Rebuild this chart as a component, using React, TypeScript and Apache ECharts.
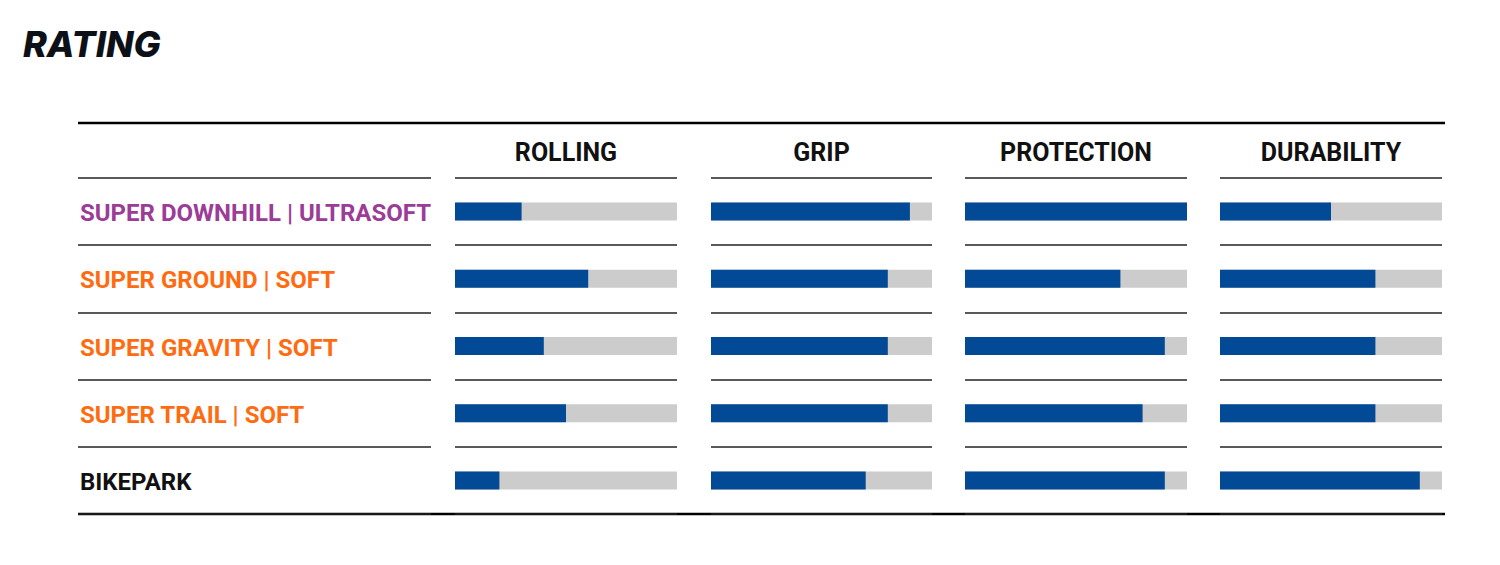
import React, { useEffect, useRef } from "react";
import * as echarts from "echarts";

const categories = [
  "SUPER DOWNHILL | ULTRASOFT",
  "SUPER GROUND | SOFT",
  "SUPER GRAVITY | SOFT",
  "SUPER TRAIL | SOFT",
  "BIKEPARK",
];
const columns = ["ROLLING", "GRIP", "PROTECTION", "DURABILITY"];
const rolling = [3, 6, 4, 5, 2];
const grip = [9, 8, 8, 8, 7];
const protection = [10, 7, 9, 8, 9];
const durability = [5, 7, 7, 7, 9];
const maxRating = 10;

const seriesValues = [rolling, grip, protection, durability];
const labelColors = ["#9b3c97", "#ff6b10", "#ff6b10", "#ff6b10", "#111111"];
const FONT = "Roboto, 'Open Sans', sans-serif";

export default function App() {
  const ref = useRef<HTMLDivElement>(null);
  useEffect(() => {
    if (!ref.current) return;
    const chart = echarts.init(ref.current, null, { renderer: "svg" });
    const top = 178;
    const height = 336;
    const colLefts = [455, 711, 965, 1220];
    const colWidths = [222, 221, 222, 222];

    const grids: any[] = [{ left: 78, width: 353, top, height }];
    colLefts.forEach((l, i) => grids.push({ left: l, width: colWidths[i], top, height }));

    const splitLine = { show: true, lineStyle: { color: "#222", width: 1.5 } };
    const xAxes: any[] = [
      { gridIndex: 0, type: "value", min: 0, max: maxRating, show: false },
    ];
    const yAxes: any[] = [
      {
        gridIndex: 0,
        type: "category",
        inverse: true,
        data: categories,
        axisLine: { show: false },
        axisTick: { show: false },
        splitLine,
        axisLabel: {
          inside: true,
          margin: 2,
          formatter: (v: string, i: number) => `{c${i}|${v}}`,
          rich: Object.fromEntries(
            labelColors.map((c, i) => [
              `c${i}`,
              { color: c, fontSize: 24, fontWeight: 700, fontFamily: FONT, padding: [3, 0, 0, 0] },
            ])
          ),
        },
      },
    ];
    const series: any[] = [
      { type: "bar", xAxisIndex: 0, yAxisIndex: 0, data: [], silent: true },
    ];
    columns.forEach((name, i) => {
      const gi = i + 1;
      xAxes.push({
        gridIndex: gi,
        type: "value",
        min: 0,
        max: maxRating,
        position: "top",
        name,
        nameLocation: "middle",
        nameGap: 13,
        nameTextStyle: { color: "#111", fontSize: 25, fontWeight: 700, fontFamily: FONT },
        axisLine: { show: false },
        axisTick: { show: false },
        axisLabel: { show: false },
        splitLine: { show: false },
      });
      yAxes.push({
        gridIndex: gi,
        type: "category",
        inverse: true,
        data: categories,
        axisLine: { show: false },
        axisTick: { show: false },
        axisLabel: { show: false },
        splitLine,
      });
      series.push({
        type: "bar",
        xAxisIndex: gi,
        yAxisIndex: gi,
        data: seriesValues[i],
        barWidth: 18,
        itemStyle: { color: "#034a96" },
        showBackground: true,
        backgroundStyle: { color: "#cccccc" },
      });
    });

    chart.setOption({
      animation: false,
      backgroundColor: "#ffffff",
      title: {
        text: "RATING",
        left: 18,
        top: 21,
        textStyle: {
          color: "#0d1117",
          fontSize: 36,
          fontWeight: 800,
          fontStyle: "italic",
          fontFamily: "Inter, Roboto, sans-serif",
        },
      },
      grid: grids,
      xAxis: xAxes,
      yAxis: yAxes,
      series,
      graphic: [
        { type: "line", shape: { x1: 78, y1: 123, x2: 1445, y2: 123 }, style: { stroke: "#000", lineWidth: 2.5 } },
        { type: "line", shape: { x1: 78, y1: 514, x2: 1445, y2: 514 }, style: { stroke: "#000", lineWidth: 2.5 } },
      ],
    });
    return () => chart.dispose();
  }, []);
  return (
    <div
      ref={ref}
      style={{ position: "absolute", left: 0, top: 0, width: 1500, height: 565 }}
    />
  );
}
